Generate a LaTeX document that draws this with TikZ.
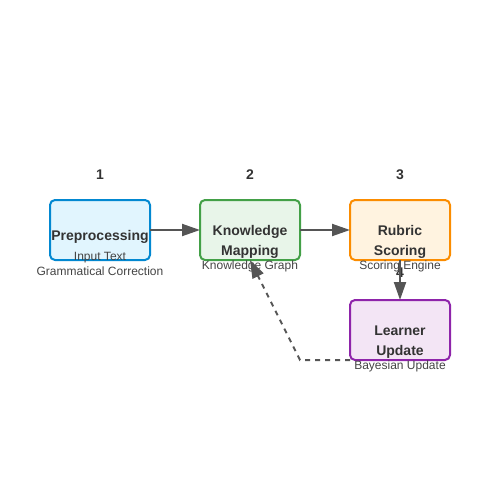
\documentclass[tikz,border=0pt]{standalone}
\usepackage{fontspec}
\setmainfont{Liberation Sans}
\usetikzlibrary{arrows.meta}
\definecolor{txt}{HTML}{333333}
\definecolor{sub}{HTML}{444444}
\definecolor{arr}{HTML}{555555}
\definecolor{f1}{HTML}{E1F5FE}\definecolor{d1}{HTML}{0288D1}
\definecolor{f2}{HTML}{E8F5E9}\definecolor{d2}{HTML}{43A047}
\definecolor{f3}{HTML}{FFF3E0}\definecolor{d3}{HTML}{FB8C00}
\definecolor{f4}{HTML}{F3E5F5}\definecolor{d4}{HTML}{8E24AA}
\tikzset{
  box/.style={draw, line width=2pt, rounded corners=5pt, minimum width=100pt, minimum height=60pt, inner sep=0pt, outer sep=0pt},
  lbl/.style={font=\fontsize{14pt}{20pt}\selectfont\bfseries, text=txt, align=center, inner sep=0pt},
  num/.style={font=\fontsize{14pt}{16pt}\selectfont\bfseries, text=txt, inner sep=0pt},
  sublbl/.style={font=\fontsize{12pt}{15pt}\selectfont, text=sub, align=center, inner sep=0pt},
  conn/.style={draw=arr, line width=2pt, -{Triangle[length=18pt,width=12pt]}},
  dconn/.style={conn, dash pattern=on 5pt off 5pt}
}
\begin{document}
\begin{tikzpicture}[x=1pt,y=-1pt]
\useasboundingbox (0,0) rectangle (500,500);
\node[box, fill=f1, draw=d1] (b1) at (100,230) {};
\node[box, fill=f2, draw=d2] (b2) at (250,230) {};
\node[box, fill=f3, draw=d3] (b3) at (400,230) {};
\node[box, fill=f4, draw=d4] (b4) at (400,330) {};
\node[num] (n1) at (100,175) {1};
\node[num] (n2) at (250,175) {2};
\node[num] (n3) at (400,175) {3};
\node[num] (n4) at (400,273) {4};
\node[lbl] (l1) at (100,237) {Preprocessing};
\node[lbl] (l2) at (250,242) {Knowledge\\Mapping};
\node[lbl] (l3) at (400,242) {Rubric\\Scoring};
\node[lbl] (l4) at (400,342) {Learner\\Update};
\node[sublbl] (s1) at (100,263.5) {Input Text\\Grammatical Correction};
\node[sublbl] (s2) at (250,266) {Knowledge Graph};
\node[sublbl] (s3) at (400,266) {Scoring Engine};
\node[sublbl] (s4) at (400,366) {Bayesian Update};
\draw[conn] (b1.east) -- (b2.west);
\draw[conn] (b2.east) -- (b3.west);
\draw[conn] (b3.south) -- (b4.north);
\coordinate (c) at (300,360);
\draw[dconn] (b4.south west) -- (c) -- (b2.south);
\end{tikzpicture}
\end{document}
